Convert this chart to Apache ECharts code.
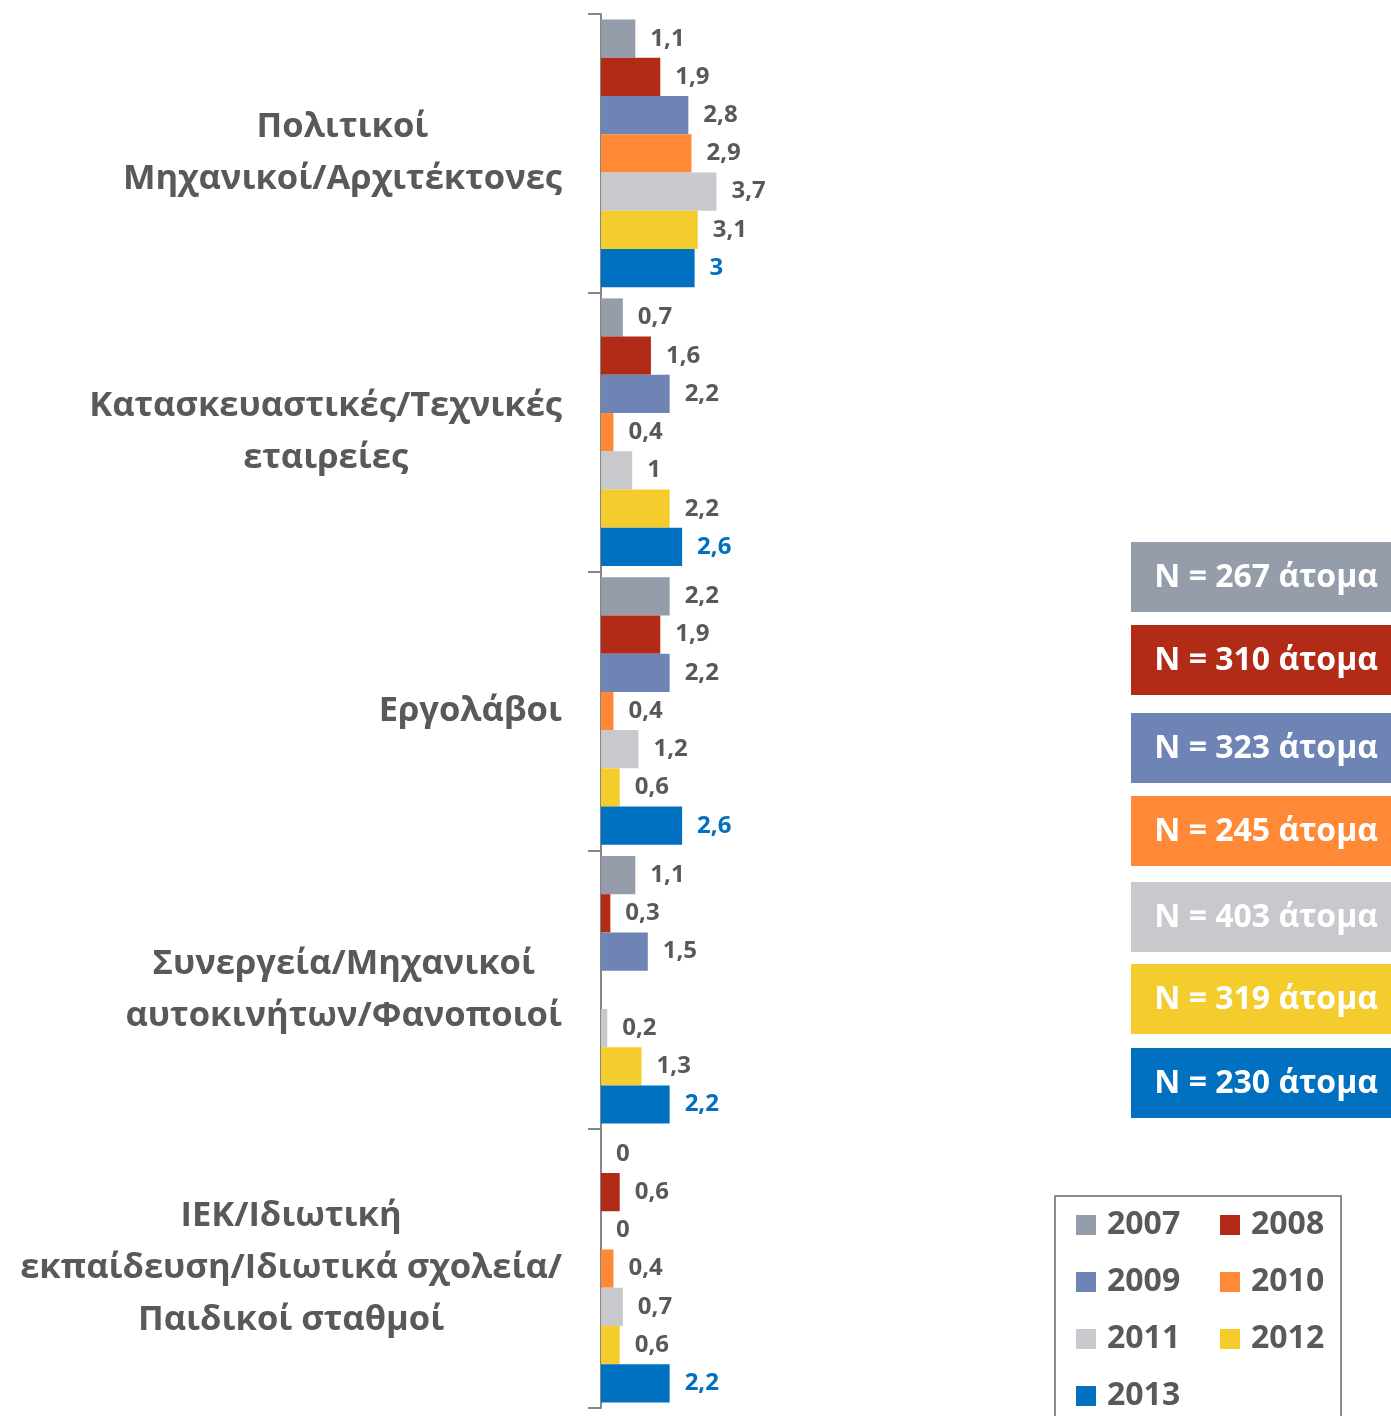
<!DOCTYPE html>
<html>
<head>
	<meta charset="utf-8">
	<title>Εργοδότες ανά έτος</title>
	<script src="https://cdn.jsdelivr.net/npm/echarts@6/dist/echarts.min.js"></script>
	<style>
		body { margin:0; background:#fff; }
		#echartContainer { width:1391px; height:1416px; }
	</style>
</head>
<body>
	<div id="echartContainer"></div>
	<script type="text/javascript">
	// κατηγορίες (από πάνω προς τα κάτω)
	var categories = [
		'Πολιτικοί\nΜηχανικοί/Αρχιτέκτονες',
		'Κατασκευαστικές/Τεχνικές\nεταιρείες',
		'Εργολάβοι',
		'Συνεργεία/Μηχανικοί\nαυτοκινήτων/Φανοποιοί',
		'ΙΕΚ/Ιδιωτική\nεκπαίδευση/Ιδιωτικά σχολεία/\nΠαιδικοί σταθμοί'
	];
	var years = ['2007', '2008', '2009', '2010', '2011', '2012', '2013'];
	var colors = ['#959DAA', '#B12B16', '#6D84B4', '#FF8936', '#C8C9CD', '#F4CC2E', '#0070C0'];
	var sampleSizes = [267, 310, 323, 245, 403, 319, 230];

	// τιμές ανά έτος, με τη σειρά των κατηγοριών
	var v2007 = [1.1, 0.7, 2.2, 1.1, 0];
	var v2008 = [1.9, 1.6, 1.9, 0.3, 0.6];
	var v2009 = [2.8, 2.2, 2.2, 1.5, 0];
	var v2010 = [2.9, 0.4, 0.4, null, 0.4];
	var v2011 = [3.7, 1, 1.2, 0.2, 0.7];
	var v2012 = [3.1, 2.2, 0.6, 1.3, 0.6];
	var v2013 = [3, 2.6, 2.6, 2.2, 2.2];
	var values = [v2007, v2008, v2009, v2010, v2011, v2012, v2013];

	var font = "'Open Sans', 'Noto Sans', sans-serif";
	var grey = '#595959';

	var series = years.map(function (y, i) {
		return {
			name: y,
			type: 'bar',
			data: values[i],
			barGap: '0%',
			barCategoryGap: '4%',
			itemStyle: { color: colors[i] },
			label: {
				show: true,
				position: 'right',
				distance: 15,
				fontFamily: font,
				fontWeight: 'bold',
				fontSize: 24,
				color: i == 6 ? '#0070C0' : grey,
				formatter: function (p) {
					if (p.value == null) return '';
					return String(p.value).replace('.', ',');
				}
			}
		};
	});

	// κουτιά με το μέγεθος δείγματος
	var boxTops = [542, 625, 713, 796, 882, 964, 1048];
	var graphics = sampleSizes.map(function (n, i) {
		var top = boxTops[i];
		return {
			type: 'group',
			children: [{
				type: 'rect',
				shape: { x: 1131, y: top, width: 260, height: 70 },
				style: { fill: colors[i] }
			}, {
				type: 'text',
				x: 1378, y: top + 36,
				style: {
					text: 'N = ' + n + ' άτομα',
					fill: '#fff',
					font: 'bold 32px ' + font,
					align: 'right',
					verticalAlign: 'middle'
				}
			}]
		};
	});
	// πλαίσιο του υπομνήματος
	graphics.push({
		type: 'rect',
		shape: { x: 1055, y: 1196, width: 286, height: 260 },
		style: { fill: 'none', stroke: '#8C8C8C', lineWidth: 2 }
	});

	// υπόμνημα σε δύο στήλες
	function legendColumn(left, names) {
		return {
			orient: 'vertical',
			left: left, top: 1209,
			padding: 0,
			icon: 'rect',
			itemWidth: 20, itemHeight: 20,
			itemGap: 25,
			textStyle: {
				fontFamily: font, fontWeight: 'bold', fontSize: 32,
				color: grey, padding: [0, 0, 0, 6]
			},
			data: names
		};
	}

	var myChart = echarts.init(document.getElementById('echartContainer'));
	myChart.setOption({
		animation: false,
		color: colors,
		grid: { left: 601, top: 14, bottom: 8, width: 312 },
		xAxis: {
			type: 'value', min: 0, max: 10, show: false,
			splitLine: { show: false }
		},
		yAxis: {
			type: 'category',
			inverse: true,
			data: categories,
			axisLine: { show: true, lineStyle: { color: '#868686', width: 2 } },
			axisTick: { show: true, length: 13, lineStyle: { color: '#868686', width: 2 } },
			axisLabel: {
				margin: 39,
				align: 'right',
				formatter: function (v) {
					return v.split('\n').map(function (l) { return '{c|' + l + '}'; }).join('\n');
				},
				rich: {
					c: {
						align: 'center',
						fontFamily: font,
						fontWeight: 'bold',
						fontSize: 34.5,
						lineHeight: 52,
						color: grey
					}
				}
			}
		},
		legend: [
			legendColumn(1076, ['2007', '2009', '2011', '2013']),
			legendColumn(1220, ['2008', '2010', '2012'])
		],
		graphic: graphics,
		series: series
	});
	</script>
</body>
</html>
